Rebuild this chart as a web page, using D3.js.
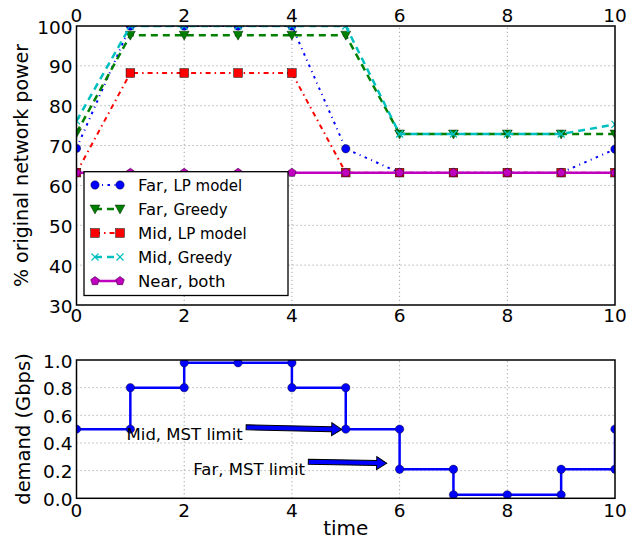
<!DOCTYPE html>
<html>
<head>
<meta charset="utf-8">
<script src="https://cdn.jsdelivr.net/npm/d3@7"></script>
<style>
html,body{margin:0;padding:0;background:#fff;}
svg{display:block;font-family:"DejaVu Sans",sans-serif;}
</style>
</head>
<body>
<svg id="chart" width="639" height="541"></svg>
<script>
// ---------- DATA ----------
const times = [0,1,2,3,4,5,6,7,8,9,10];
const farLP     = [69.3,100,100,100,100,69.2,63.2,63.2,63.2,63.2,69.1];
const farGreedy = [73.2,97.7,97.7,97.7,97.7,97.7,72.9,72.9,72.9,72.9,72.9];
const midLP     = [63.2,88.2,88.2,88.2,88.2,63.2,63.2,63.2,63.2,63.2,63.2];
const midGreedy = [76.2,100,100,100,100,100,72.9,72.9,72.9,72.9,75.3];
const nearBoth  = [63.2,63.2,63.2,63.2,63.2,63.2,63.2,63.2,63.2,63.2,63.2];
const seriesNames = ["Far, |LP model","Far, |Greedy","Mid, |LP model","Mid, |Greedy","Near, both"];

const demandT = [0,1,1,2,2,3,4,4,5,5,6,6,7,7,8,9,9,10,10];
const demandV = [0.5,0.5,0.8,0.8,0.98,0.98,0.98,0.8,0.8,0.5,0.5,0.21,0.21,0.025,0.025,0.025,0.21,0.21,0.5];

const xTicks = [0,2,4,6,8,10];
const yTicksTop = [30,40,50,60,70,80,90,100];
const yTicksBot = [0,0.2,0.4,0.6,0.8,1.0];
const yTickLabelsBot = ["0.0","0.2","0.4","0.6","0.8","1.0"];

const noteTexts = ["Mid, MST limit","Far, MST limit"];
const noteTextX = [0.93,2.17];
const noteTextY = [0.42,0.168];
const arrowTail = [[3.15,0.513],[4.305,0.265]];
const arrowTip  = [[4.925,0.498],[5.76,0.253]];

// ---------- SETUP ----------
const svg = d3.select("#chart");
const L = 76.5, R = 615;
const x = d3.scaleLinear().domain([0,10]).range([L,R]);
const yT = d3.scaleLinear().domain([30,100]).range([305,26]);
const yB = d3.scaleLinear().domain([0,1]).range([498.3,360]);
const tickFont = 18.5;

function clip(id, y0, y1){
  svg.append("clipPath").attr("id",id).append("rect")
    .attr("x",L).attr("y",y0).attr("width",R-L).attr("height",y1-y0);
}
clip("clipT",26,305);
clip("clipB",360,498.3);

function grid(g, yScale, yt){
  g.selectAll(".gx").data(xTicks.slice(1,-1)).join("line")
    .attr("x1",d=>x(d)).attr("x2",d=>x(d))
    .attr("y1",yScale.range()[0]).attr("y2",yScale.range()[1])
    .attr("stroke","#a0a0a0").attr("stroke-width",1).attr("stroke-dasharray","1.2,2.8");
  g.selectAll(".gy").data(yt.slice(1,-1)).join("line")
    .attr("x1",L).attr("x2",R)
    .attr("y1",d=>yScale(d)).attr("y2",d=>yScale(d))
    .attr("stroke","#a0a0a0").attr("stroke-width",1).attr("stroke-dasharray","1.2,2.8");
}

// ---------- TOP PLOT ----------
const gT = svg.append("g");
grid(gT, yT, yTicksTop);

const specs = [
  {vals:farLP, color:"#0000ff", dash:"2.5,4.5,1,4.5", width:2, marker:"circle"},
  {vals:farGreedy, color:"#008000", dash:"7,5", width:2.5, marker:"tri"},
  {vals:midLP, color:"#ff0000", dash:"5,4,1.5,4", width:2, marker:"square"},
  {vals:midGreedy, color:"#00bfbf", dash:"7,5", width:2.5, marker:"x"},
  {vals:nearBoth, color:"#bf00bf", dash:null, width:2.5, marker:"pent"}
];

function drawMarker(g, type, cx, cy, color){
  if(type==="circle"){
    g.append("circle").attr("cx",cx).attr("cy",cy).attr("r",4.2).attr("fill",color).attr("stroke","#000").attr("stroke-width",0.4);
  } else if(type==="tri"){
    const s=5;
    g.append("path").attr("d",`M${cx-s},${cy-s*0.8}L${cx+s},${cy-s*0.8}L${cx},${cy+s}Z`).attr("fill",color).attr("stroke","#000").attr("stroke-width",0.4);
  } else if(type==="square"){
    const s=4.3;
    g.append("rect").attr("x",cx-s).attr("y",cy-s).attr("width",2*s).attr("height",2*s).attr("fill",color).attr("stroke","#000").attr("stroke-width",0.5);
  } else if(type==="x"){
    const s=3.5;
    g.append("path").attr("d",`M${cx-s},${cy-s}L${cx+s},${cy+s}M${cx-s},${cy+s}L${cx+s},${cy-s}`).attr("stroke",color).attr("stroke-width",1.2);
  } else if(type==="pent"){
    const r=4.5;
    const pts=d3.range(5).map(i=>{const a=-Math.PI/2+i*2*Math.PI/5;return [cx+r*Math.cos(a),cy+r*Math.sin(a)];});
    g.append("path").attr("d","M"+pts.join("L")+"Z").attr("fill",color).attr("stroke","#400040").attr("stroke-width",0.6);
  }
}

const plotT = gT.append("g").attr("clip-path","url(#clipT)");
specs.forEach(s=>{
  const line = d3.line().x((d,i)=>x(times[i])).y(d=>yT(d));
  plotT.append("path").datum(s.vals).attr("d",line)
    .attr("fill","none").attr("stroke",s.color).attr("stroke-width",s.width)
    .attr("stroke-dasharray",s.dash);
  s.vals.forEach((v,i)=>drawMarker(plotT,s.marker,x(times[i]),yT(v),s.color));
});

// frame
gT.append("rect").attr("x",L).attr("y",26).attr("width",R-L).attr("height",305-26)
  .attr("fill","none").attr("stroke","#000").attr("stroke-width",1.5);

// tick labels
xTicks.forEach(t=>{
  gT.append("text").attr("x",x(t)).attr("y",15).attr("text-anchor","middle").attr("dominant-baseline","central")
    .attr("font-size",tickFont).text(t);
  gT.append("text").attr("x",x(t)).attr("y",315.5).attr("text-anchor","middle").attr("dominant-baseline","central")
    .attr("font-size",tickFont).text(t);
});
yTicksTop.forEach(t=>{
  gT.append("text").attr("x",72.5).attr("y",yT(t)+1).attr("text-anchor","end").attr("dominant-baseline","central")
    .attr("font-size",tickFont).text(t);
});
gT.append("text").attr("transform","translate(28,165.5) rotate(-90)").attr("text-anchor","middle")
  .attr("font-size",19).text("% original network power");

// legend
const lg = gT.append("g");
lg.append("rect").attr("x",84).attr("y",171.7).attr("width",204).attr("height",123.8)
  .attr("fill","#fff").attr("stroke","#000").attr("stroke-width",1.3);
specs.forEach((s,i)=>{
  const cy = 185 + i*24;
  lg.append("line").attr("x1",95).attr("x2",120).attr("y1",cy).attr("y2",cy)
    .attr("stroke",s.color).attr("stroke-width",s.width).attr("stroke-dasharray",s.dash);
  drawMarker(lg,s.marker,95,cy,s.color);
  drawMarker(lg,s.marker,120,cy,s.color);
  const parts = seriesNames[i].split("|");
  const t = lg.append("text").attr("x",138).attr("y",cy+6).attr("font-size",16.5);
  t.append("tspan").text(parts[0]);
  if(parts[1]) t.append("tspan").attr("font-size",15).text(parts[1]);
});

// ---------- BOTTOM PLOT ----------
const gB = svg.append("g");
grid(gB, yB, yTicksBot);
const plotB = gB.append("g").attr("clip-path","url(#clipB)");
const dLine = d3.line().x((d,i)=>x(demandT[i])).y(d=>yB(d));
plotB.append("path").datum(demandV).attr("d",dLine)
  .attr("fill","none").attr("stroke","#0000ff").attr("stroke-width",2.5);
demandV.forEach((v,i)=>{
  plotB.append("circle").attr("cx",x(demandT[i])).attr("cy",yB(v)).attr("r",4.2)
    .attr("fill","#0000ff").attr("stroke","#000").attr("stroke-width",0.4);
});
gB.append("rect").attr("x",L).attr("y",360).attr("width",R-L).attr("height",498.3-360)
  .attr("fill","none").attr("stroke","#000").attr("stroke-width",1.5);

xTicks.forEach(t=>{
  gB.append("text").attr("x",x(t)).attr("y",510.5).attr("text-anchor","middle").attr("dominant-baseline","central")
    .attr("font-size",tickFont).text(t);
});
yTicksBot.forEach((t,i)=>{
  gB.append("text").attr("x",72.5).attr("y",yB(t)+1).attr("text-anchor","end").attr("dominant-baseline","central")
    .attr("font-size",tickFont).text(yTickLabelsBot[i]);
});
gB.append("text").attr("transform","translate(30,429) rotate(-90)").attr("text-anchor","middle")
  .attr("font-size",19.5).text("demand (Gbps)");
gB.append("text").attr("x",(L+R)/2).attr("y",535).attr("text-anchor","middle")
  .attr("font-size",20).text("time");

// annotations
noteTexts.forEach((t,i)=>{
  gB.append("text").attr("x",x(noteTextX[i])).attr("y",yB(noteTextY[i]))
    .attr("font-size",16.5).attr("fill","#000").text(t);
  const [x0,y0]=[x(arrowTail[i][0]),yB(arrowTail[i][1])];
  const [x1,y1]=[x(arrowTip[i][0]),yB(arrowTip[i][1])];
  const ang=Math.atan2(y1-y0,x1-x0), len=Math.hypot(x1-x0,y1-y0);
  const hw=2.5, hh=6.5, hl=10;
  const pts=[[0,-hw],[len-hl,-hw],[len-hl,-hh],[len,0],[len-hl,hh],[len-hl,hw],[0,hw]];
  gB.append("path").attr("d","M"+pts.map(p=>p.join(",")).join("L")+"Z")
    .attr("transform",`translate(${x0},${y0}) rotate(${ang*180/Math.PI})`)
    .attr("fill","#0000ff").attr("stroke","#000").attr("stroke-width",1);
});
</script>
</body>
</html>
